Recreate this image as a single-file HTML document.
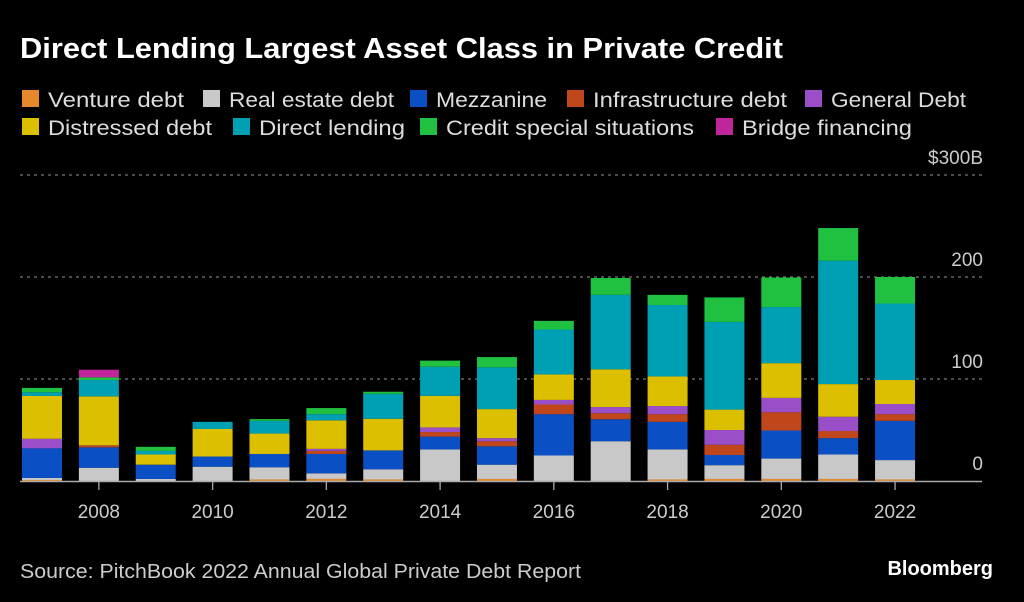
<!DOCTYPE html>
<html><head><meta charset="utf-8"><style>
body{margin:0;background:#000;width:1024px;height:602px;overflow:hidden;font-family:"Liberation Sans",sans-serif;}
svg{display:block}
</style></head><body>
<svg id="c" width="1024" height="602">
<text x="20" y="58" fill="#fff" font-size="29" font-weight="bold" textLength="763" lengthAdjust="spacingAndGlyphs">Direct Lending Largest Asset Class in Private Credit</text>
<g id="legend"></g>
<g id="grid"></g><g id="bars"></g><g id="axis"></g>
<text x="20" y="578" fill="#ccc" font-size="20" textLength="561" lengthAdjust="spacingAndGlyphs">Source: PitchBook 2022 Annual Global Private Debt Report</text>
<text x="993" y="575" fill="#fff" font-size="20" font-weight="bold" text-anchor="end">Bloomberg</text>
</svg>
<script>
const years=[2007,2008,2009,2010,2011,2012,2013,2014,2015,2016,2017,2018,2019,2020,2021,2022];
const seriesNames=["Venture debt","Real estate debt","Mezzanine","Infrastructure debt","General Debt","Distressed debt","Direct lending","Credit special situations","Bridge financing"];
const colors=["#e5892a","#c8c8c8","#0a4fc4","#c0461c","#9a4fc9","#dcc000","#00a0b4","#20c040","#c0259c"];
const venture=[1,0,0,0,1.5,2,1.5,0,2,0,0,1.5,2,2,2,1.5];
const realEstate=[2,13,2,14,12,5.5,10,31,14,25,39,29.5,13.5,20,24,19];
const mezzanine=[29,20,14,10,13,19,18.5,12.5,18,40.5,21.5,27,10,27.5,16,38.5];
const infra=[0,2,0,0,0,3,0,4.5,5,9.5,6,7.5,10,18,7,6.5];
const general=[9.4,0,0,0,0,2,0,4.5,3,4.5,6,8,14.5,14,14,10];
const distressed=[42,48,10,27,20,28,31,31,28.5,25,37,29,20,34,32,23.5];
const direct=[3.6,16,3.5,7,12.5,6,24.5,28.5,41,44,73,70,86,55,121,75];
const special=[4.3,2.6,4,0,1.7,6,2,6,10,8.5,16.5,10,24,29,32,26];
const bridge=[0,7.5,0,0,0,0,0,0,0,0,0,0,0,0,0,0];
const series=[venture,realEstate,mezzanine,infra,general,distressed,direct,special,bridge];
const yTicks=[0,100,200,300];
const yTickLabels=["0","100","200","$300B"];
const xTickYears=[2008,2010,2012,2014,2016,2018,2020,2022];
const NS="http://www.w3.org/2000/svg";
function yS(v){return 481-v*1.02;}
function xS(yr){return 42+(yr-2007)*56.87;}
function mk(t,a,p){const e=document.createElementNS(NS,t);for(const k in a)e.setAttribute(k,a[k]);p.appendChild(e);return e;}
const lg=document.getElementById('legend');
const rows=[[0,1,2,3,4],[5,6,7,8]];
const rowX=[[22,203,410,567,805],[22,233,420,716]];
const textW=[136,165,111,194,135,164,146,248,170];
rows.forEach((r,ri)=>r.forEach((si,j)=>{
 const x=rowX[ri][j],y=ri?127:99;
 const g=mk('g',{},lg);
 
 
 mk('rect',{x:x,y:y-9,width:17,height:17,fill:colors[si]},g);
 const t=mk('text',{x:x+26,y:y+8,fill:'#ddd','font-size':21,textLength:textW[si],lengthAdjust:'spacingAndGlyphs'},g);t.textContent=seriesNames[si];
}));
const gr=document.getElementById('grid');
yTicks.forEach((v,i)=>{
 if(v>0){const l=mk('line',{x1:20,x2:982,y1:yS(v),y2:yS(v),stroke:'#777','stroke-dasharray':'3,4','stroke-width':1.3},gr);
 }
 const t=mk('text',{x:983,y:yS(v)-11,fill:'#ccc','font-size':19,'text-anchor':'end'},gr);
 
 t.textContent=yTickLabels[i];
});
const bg=document.getElementById('bars');
years.forEach((yr,i)=>{
 let acc=0;const x=xS(yr)-20;
 series.forEach((s,si)=>{
  const v=s[i];if(!v)return;
  const r=mk('rect',{x:x,y:yS(acc+v),width:40,height:v*1.02,fill:colors[si]},bg);
  
  
  acc+=v;
 });
});
const ax=document.getElementById('axis');
const base=mk('line',{x1:20,x2:982,y1:481.5,y2:481.5,stroke:'#aaa','stroke-width':1.5},ax);

xTickYears.forEach(yr=>{
 mk('line',{x1:xS(yr),x2:xS(yr),y1:481,y2:490,stroke:'#aaa','stroke-width':1.3},ax);
 const t=mk('text',{x:xS(yr),y:518,fill:'#ccc','font-size':19,'text-anchor':'middle'},ax);
 
 t.textContent=yr;
});
</script>
</body></html>
